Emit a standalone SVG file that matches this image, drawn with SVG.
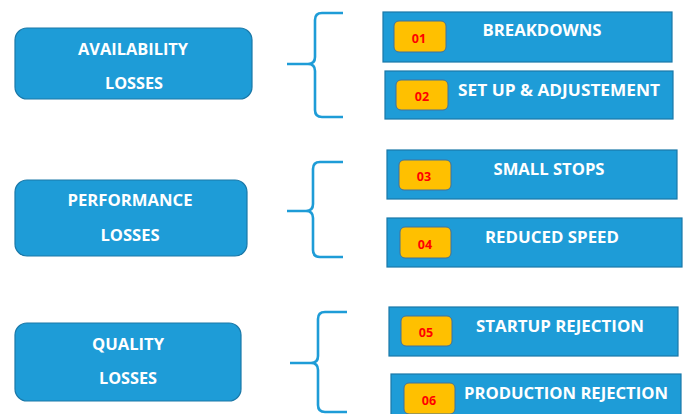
<svg xmlns="http://www.w3.org/2000/svg" width="683" height="414" viewBox="0 0 683 414">
<style>
.cat{fill:#1E9CD7;stroke:#1A78A8;stroke-width:1.2}
.item{fill:#1E9CD7;stroke:#1A78A8;stroke-width:1.2}
.badge{fill:#FFC000;stroke:#41719C;stroke-width:1}
.lbl{font-family:"Open Sans","Liberation Sans",sans-serif;font-weight:bold;font-size:16px;fill:#FFFFFF;text-anchor:middle}
.num{font-family:"Open Sans","Liberation Sans",sans-serif;font-weight:bold;font-size:12.5px;fill:#FF0000;text-anchor:middle}
.brace{fill:none;stroke:#1E9CD7;stroke-width:2.6;stroke-linejoin:round}
</style>
<rect width="683" height="414" fill="#FFFFFF"/>
<g id="connectors">
<path class="brace" d="M343,13 H322 Q315,13 315,20 V57 Q315,64 308,64 H287 M308,64 Q315,64 315,71 V110 Q315,117 322,117 H343"/>
<path class="brace" d="M343,162 H320 Q313,162 313,169 V204 Q313,211 306,211 H287 M306,211 Q313,211 313,218 V250 Q313,257 320,257 H343"/>
<path class="brace" d="M347,312 H325 Q318,312 318,319 V356 Q318,363 311,363 H290 M311,363 Q318,363 318,370 V405 Q318,412 325,412 H347"/>
</g>
<g id="availability">
<rect class="cat" x="15" y="28" width="237" height="71" rx="12"/>
<text class="lbl" x="133" y="55" textLength="110" lengthAdjust="spacingAndGlyphs">AVAILABILITY</text>
<text class="lbl" x="134" y="89" textLength="58" lengthAdjust="spacingAndGlyphs">LOSSES</text>
</g>
<g id="performance">
<rect class="cat" x="15" y="180" width="232" height="76" rx="12"/>
<text class="lbl" x="130" y="206" textLength="125" lengthAdjust="spacingAndGlyphs">PERFORMANCE</text>
<text class="lbl" x="130" y="241" textLength="59" lengthAdjust="spacingAndGlyphs">LOSSES</text>
</g>
<g id="quality">
<rect class="cat" x="15" y="323" width="226" height="78" rx="12"/>
<text class="lbl" x="128" y="350" textLength="72" lengthAdjust="spacingAndGlyphs">QUALITY</text>
<text class="lbl" x="128" y="384" textLength="58" lengthAdjust="spacingAndGlyphs">LOSSES</text>
</g>
<g id="item01">
<rect class="item" x="383" y="12" width="289" height="50"/>
<rect class="badge" x="394" y="21" width="52" height="31" rx="5"/>
<text class="num" x="419" y="43">01</text>
<text class="lbl" x="542" y="36" textLength="119" lengthAdjust="spacingAndGlyphs">BREAKDOWNS</text>
</g>
<g id="item02">
<rect class="item" x="385" y="71" width="288" height="48"/>
<rect class="badge" x="396" y="80" width="52" height="30" rx="5"/>
<text class="num" x="422" y="101">02</text>
<text class="lbl" x="559" y="96" textLength="202" lengthAdjust="spacingAndGlyphs">SET UP &amp; ADJUSTEMENT</text>
</g>
<g id="item03">
<rect class="item" x="387" y="150" width="290" height="49"/>
<rect class="badge" x="399" y="160" width="52" height="30" rx="5"/>
<text class="num" x="424" y="181">03</text>
<text class="lbl" x="549" y="175" textLength="111" lengthAdjust="spacingAndGlyphs">SMALL STOPS</text>
</g>
<g id="item04">
<rect class="item" x="387" y="218" width="295" height="49"/>
<rect class="badge" x="400" y="227" width="51" height="31" rx="5"/>
<text class="num" x="425" y="249">04</text>
<text class="lbl" x="552" y="243" textLength="134" lengthAdjust="spacingAndGlyphs">REDUCED SPEED</text>
</g>
<g id="item05">
<rect class="item" x="389" y="307" width="289" height="49"/>
<rect class="badge" x="401" y="316" width="51" height="30" rx="5"/>
<text class="num" x="426" y="337">05</text>
<text class="lbl" x="560" y="332" textLength="168" lengthAdjust="spacingAndGlyphs">STARTUP REJECTION</text>
</g>
<g id="item06">
<rect class="item" x="391" y="374" width="290" height="50"/>
<rect class="badge" x="404" y="383" width="51" height="31" rx="5"/>
<text class="num" x="429" y="405">06</text>
<text class="lbl" x="566" y="399" textLength="204" lengthAdjust="spacingAndGlyphs">PRODUCTION REJECTION</text>
</g>
</svg>
